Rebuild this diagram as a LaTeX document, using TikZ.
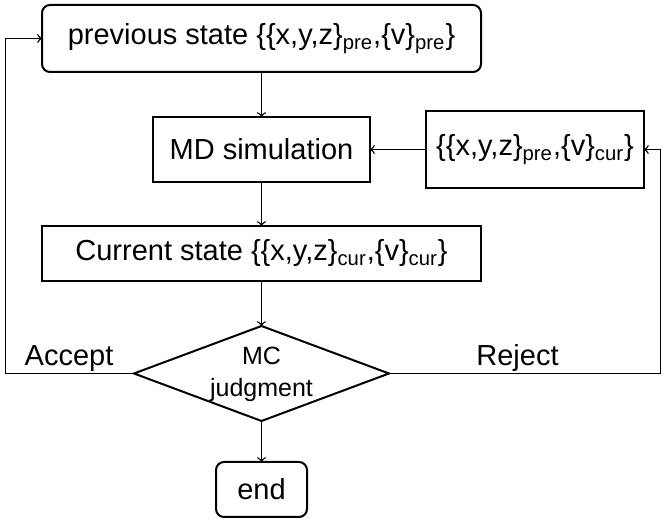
\documentclass[tikz,border=0pt]{standalone}
\usepackage{fontspec}
\setmainfont{Liberation Sans}
\newcommand{\bigtxt}{\fontsize{14.5}{17}\selectfont}
\newcommand{\smalltxt}{\fontsize{12.5}{16}\selectfont}
\newcommand{\tsub}[1]{\textsubscript{#1}}
\tikzset{
    stepbox/.style={draw, rectangle, line width=1pt, inner sep=0pt, outer sep=0pt, anchor=center, font=\bigtxt},
    statebox/.style={stepbox, rounded corners=4pt},
    decision/.style={draw, diamond, line width=1pt, inner sep=0pt, outer sep=0pt, minimum width=127.5pt, minimum height=47.5pt},
    flow/.style = {->, line width=0.7pt},
    lbl/.style={font=\bigtxt, anchor=base, inner sep=0pt} }
\usetikzlibrary{calc, positioning, shapes.geometric}

\begin{document}
\begin{tikzpicture}[x=0.5pt, y=0.5pt, node distance=22.5pt]
			\useasboundingbox (0,0) rectangle (666,-522);
			\node[statebox, minimum width=219.5pt, minimum height=33.5pt] (prev) at (261.5,-38.5) {previous state \{\{x,y,z\}\tsub{pre},\{v\}\tsub{pre}\}};
			\node[stepbox, minimum width=108.5pt, minimum height=32.5pt, below = of prev] (md) {MD simulation};
			\node[stepbox, minimum width=109pt, minimum height=38.5pt, right = 28pt of md] (param) {\{\{x,y,z\}\tsub{pre},\{v\}\tsub{cur}\}};
			\node[stepbox, minimum width=219.5pt, minimum height=27.5pt, below = 22pt of md] (cur) {Current state \{\{x,y,z\}\tsub{cur},\{v\}\tsub{cur}\}};
			\node[decision, below = of cur] (judge) {};
			\node[font=\smalltxt, align=center, inner sep=0pt] (judgetxt) at ($(judge)+(0,-1)$) {MC\\judgment};
			\node[statebox, minimum width=45.5pt, minimum height=27.5pt, below = 20.5pt of judge] (finish) {end};
			\node[lbl] (accept) at (69,-366) {Accept};
			\node[lbl] (reject) at (517.5,-366) {Reject};
			% ----
			\draw[flow] (prev) -- (md);
			\draw[flow] (md) -- (cur);
			\draw[flow] (cur) -- (judge);
			\draw[flow] (judge) -- (finish);

			\draw[flow] (param) -- (md);

			\draw[flow] (judge.west) -- ++(-128.5,0) |- (prev.west);
			\draw[flow] (judge.east) -- ++(271.5,0) |- (param.east);
		\end{tikzpicture}
\end{document}
